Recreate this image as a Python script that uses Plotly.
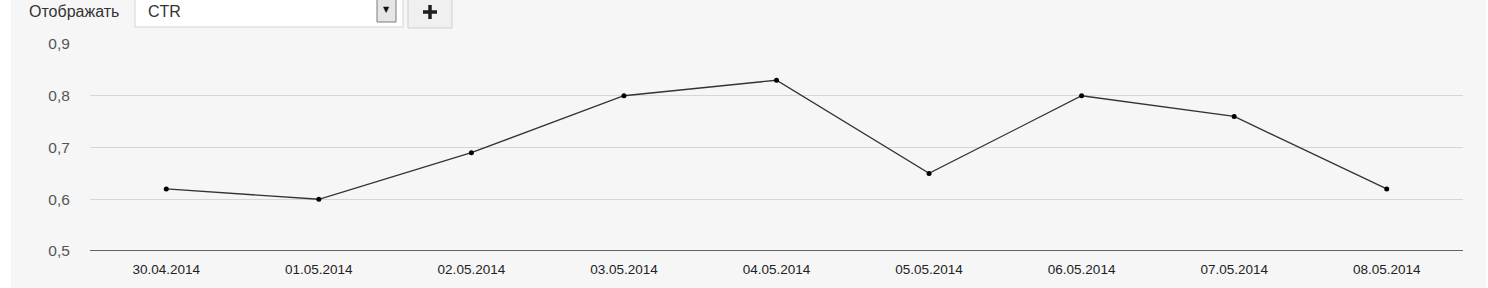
import plotly.graph_objects as go

dates = ["30.04.2014", "01.05.2014", "02.05.2014", "03.05.2014", "04.05.2014",
         "05.05.2014", "06.05.2014", "07.05.2014", "08.05.2014"]
ctr = [0.62, 0.60, 0.69, 0.80, 0.83, 0.65, 0.80, 0.76, 0.62]
y_ticks = [0.5, 0.6, 0.7, 0.8, 0.9]

W, H = 1488, 288
L, R, T, B = 90, 25, 44, 37
PW, PH = W - L - R, H - T - B


def px(x):
    return (x - L) / PW


def py(y):
    return (H - B - y) / PH


FONT = "Liberation Sans, Arial, sans-serif"

fig = go.Figure()
fig.add_trace(go.Scatter(
    x=dates, y=ctr, mode="lines+markers",
    line=dict(color="#333333", width=1.3),
    marker=dict(color="#000000", size=5),
    hoverinfo="x+y",
))

shapes = [
    # grey panel background
    dict(type="rect", xref="paper", yref="paper", x0=px(11), x1=px(1486), y0=py(0), y1=py(H),
         fillcolor="#f6f6f6", line=dict(width=0), layer="below"),
    # input box
    dict(type="rect", xref="paper", yref="paper", x0=px(135), x1=px(403), y0=py(-2), y1=py(27),
         fillcolor="#ffffff", line=dict(color="#d4d4d4", width=1), layer="above"),
    # dropdown button
    dict(type="rect", xref="paper", yref="paper", x0=px(377), x1=px(396), y0=py(-2), y1=py(22),
         fillcolor="#e6e6e6", line=dict(color="#7a7a7a", width=1), layer="above"),
    # plus button
    dict(type="rect", xref="paper", yref="paper", x0=px(408), x1=px(452), y0=py(-2), y1=py(28),
         fillcolor="#f0f0f0", line=dict(color="#cfcfcf", width=1), layer="above"),
    # plus sign (bold)
    dict(type="line", xref="paper", yref="paper", x0=px(423), x1=px(437), y0=py(12), y1=py(12),
         line=dict(color="#1e1e1e", width=3.5), layer="above"),
    dict(type="line", xref="paper", yref="paper", x0=px(430), x1=px(430), y0=py(5), y1=py(19),
         line=dict(color="#1e1e1e", width=3.5), layer="above"),
]

annotations = [
    dict(text="Отображать", xref="paper", yref="paper", x=px(27), y=py(12), xanchor="left",
         yanchor="middle", showarrow=False, font=dict(family=FONT, size=16, color="#333333")),
    dict(text="CTR", xref="paper", yref="paper", x=px(146), y=py(12), xanchor="left",
         yanchor="middle", showarrow=False, font=dict(family=FONT, size=16, color="#333333")),
    dict(text="▼", xref="paper", yref="paper", x=px(386.5), y=py(10), xanchor="center",
         yanchor="middle", showarrow=False, font=dict(family="DejaVu Sans", size=8, color="#111111")),
]

fig.update_layout(
    width=W, height=H,
    margin=dict(l=L, r=R, t=T, b=B, pad=0),
    paper_bgcolor="#ffffff", plot_bgcolor="rgba(0,0,0,0)",
    separators=", ",
    showlegend=False,
    shapes=shapes, annotations=annotations,
    font=dict(family=FONT),
    xaxis=dict(
        type="category", range=[-0.5, len(dates) - 0.5],
        showgrid=False, zeroline=False, showline=False,
        tickfont=dict(family=FONT, size=13.5, color="#222222"),
        ticks="outside", ticklen=6, tickcolor="rgba(0,0,0,0)",
        fixedrange=True,
    ),
    yaxis=dict(
        range=[0.5, 0.9], tickvals=y_ticks, tickformat=".1f",
        showgrid=True, gridcolor="#d6d6d6", gridwidth=1,
        zeroline=False, showline=False,
        tickfont=dict(family=FONT, size=15.5, color="#555555"),
        ticks="outside", ticklen=16, tickcolor="rgba(0,0,0,0)",
        fixedrange=True,
    ),
)

# baseline at the bottom of the plot
fig.add_shape(type="line", xref="paper", yref="y", x0=0, x1=1, y0=0.5, y1=0.5,
              line=dict(color="#333333", width=1.5), layer="above")

fig.write_html("out.html", config={"displayModeBar": False})
